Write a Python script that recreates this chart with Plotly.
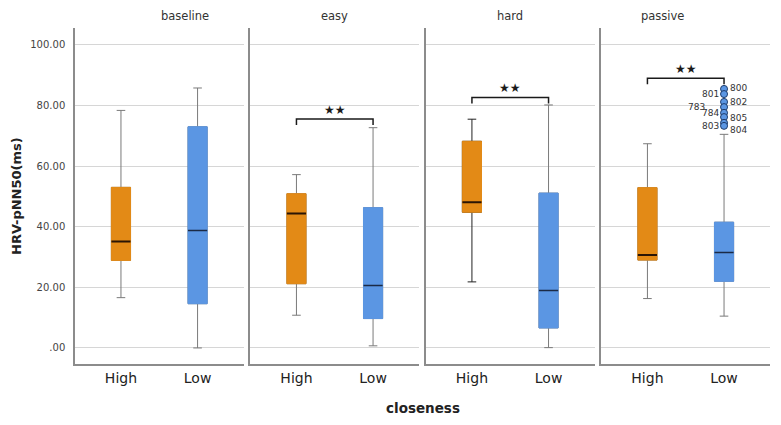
import plotly.graph_objects as go

# ---------------- data ----------------
panels = ["baseline", "easy", "hard", "passive"]
groups = ["High", "Low"]
# per panel: [High, Low]
lower_whisker = [[16.6, 0.0], [10.8, 0.7], [21.8, 0.1], [16.3, 10.5]]
q1_vals = [[28.9, 14.6], [21.2, 9.7], [44.8, 6.6], [29.0, 22.0]]
median_vals = [[35.1, 38.8], [44.4, 20.6], [48.1, 19.0], [30.7, 31.5]]
q3_vals = [[53.0, 73.0], [50.9, 46.3], [68.2, 51.1], [52.9, 41.5]]
upper_whisker = [[78.4, 85.8], [57.2, 72.7], [75.5, 80.2], [67.4, 70.5]]

sig_panels = ["easy", "hard", "passive"]
sig_tops = [75.6, 82.7, 89.0]
sig_label = "★★"

outlier_panel = "passive"
outlier_group = "Low"
outlier_ids = ["800", "801", "802", "783", "784", "805", "803", "804"]
outlier_vals = [85.5, 83.8, 81.2, 79.5, 77.6, 76.2, 74.3, 73.3]
outlier_label_shift = [(14, 1), (-14, 0), (14, 0), (-28, 0), (-14, 0), (14, -1), (-14, -3), (14, -4)]

y_ticks = [0, 20, 40, 60, 80, 100]
y_ticktext = [".00", "20.00", "40.00", "60.00", "80.00", "100.00"]

# ---------------- style ----------------
colors = ["#E38A16", "#5B96E3"]
median_colors = ["#2a1505", "#1b2a45"]
median_widths = [2, 1.5]
whisker_colors = [["#7a7a7a", "#7a7a7a"], ["#7a7a7a", "#7a7a7a"], ["#222222", "#7a7a7a"], ["#7a7a7a", "#7a7a7a"]]
box_w = 0.25
font = "DejaVu Sans"

W, H = 781, 425
ml, mr, mt, mb = 75, 11, 28, 61
pw = 0.2425
gap = (1 - 4 * pw) / 3

fig = go.Figure()

for p, name in enumerate(panels):
    xa = "x" if p == 0 else f"x{p+1}"
    ya = "y" if p == 0 else f"y{p+1}"
    for g in range(2):
        # whiskers (and hidden box outline)
        fig.add_trace(go.Box(
            x=[g], q1=[q1_vals[p][g]], median=[median_vals[p][g]], q3=[q3_vals[p][g]],
            lowerfence=[lower_whisker[p][g]], upperfence=[upper_whisker[p][g]],
            width=box_w, whiskerwidth=0.45, boxpoints=False,
            line=dict(color=whisker_colors[p][g], width=1),
            fillcolor=colors[g], xaxis=xa, yaxis=ya, showlegend=False, hoverinfo="skip"))
        # filled box body
        fig.add_trace(go.Box(
            x=[g], q1=[q1_vals[p][g]], median=[median_vals[p][g]], q3=[q3_vals[p][g]],
            lowerfence=[q1_vals[p][g]], upperfence=[q3_vals[p][g]],
            width=box_w, whiskerwidth=0, boxpoints=False,
            line=dict(color=colors[g], width=1),
            fillcolor=colors[g], xaxis=xa, yaxis=ya, showlegend=False, hoverinfo="skip"))
        # median line
        fig.add_trace(go.Scatter(
            x=[g - box_w / 2, g + box_w / 2], y=[median_vals[p][g]] * 2, mode="lines",
            line=dict(color=median_colors[g], width=median_widths[g]), xaxis=xa, yaxis=ya,
            showlegend=False, hoverinfo="skip"))

    if name in sig_panels:
        top = sig_tops[sig_panels.index(name)]
        drop = 2.0
        fig.add_trace(go.Scatter(
            x=[0, 0, 1, 1], y=[top - drop, top, top, top - drop], mode="lines",
            line=dict(color="#1a1a1a", width=1.5), xaxis=xa, yaxis=ya,
            showlegend=False, hoverinfo="skip"))
        fig.add_annotation(x=0.5, y=top, xref=xa, yref=ya, text=sig_label,
                           showarrow=False, yanchor="bottom", yshift=0,
                           font=dict(family=font, size=12, color="#1a1a1a"))

    if name == outlier_panel:
        gx = groups.index(outlier_group)
        fig.add_trace(go.Scatter(
            x=[gx] * len(outlier_vals), y=outlier_vals, mode="markers",
            marker=dict(color=colors[1], size=7, line=dict(color="#1d3b6b", width=1)),
            xaxis=xa, yaxis=ya, showlegend=False, hoverinfo="skip"))
        for lab, v, (dx, dy) in zip(outlier_ids, outlier_vals, outlier_label_shift):
            fig.add_annotation(x=gx, y=v, xref=xa, yref=ya, text=lab, showarrow=False,
                               xshift=dx, yshift=dy,
                               font=dict(family=font, size=9, color="#333333"))

layout = dict(
    width=W, height=H, margin=dict(l=ml, r=mr, t=mt, b=mb),
    paper_bgcolor="white", plot_bgcolor="white", boxmode="overlay",
    showlegend=False,
)
for p, name in enumerate(panels):
    x0 = p * (pw + gap)
    xk = "xaxis" if p == 0 else f"xaxis{p+1}"
    yk = "yaxis" if p == 0 else f"yaxis{p+1}"
    layout[xk] = dict(
        domain=[x0, x0 + pw], range=[-0.6, 1.6], tickvals=[0, 1], ticktext=groups,
        showgrid=False, zeroline=False, showline=True, linecolor="#8c8c8c", linewidth=1.5,
        ticks="", tickfont=dict(family=font, size=14, color="#222222"),
        anchor="y" if p == 0 else f"y{p+1}", fixedrange=True)
    layout[yk] = dict(
        range=[-5.3, 105.6], tickvals=y_ticks, ticktext=y_ticktext,
        showticklabels=(p == 0), showgrid=True, gridcolor="#d6d6d6", gridwidth=1,
        zeroline=False, showline=True, linecolor="#8c8c8c", linewidth=1.5,
        ticks="", ticklabelstandoff=6, tickfont=dict(family=font, size=10, color="#444444"),
        anchor="x" if p == 0 else f"x{p+1}")
    if p > 0:
        layout[yk]["matches"] = "y"
fig.update_layout(**layout)

for p, name in enumerate(panels):
    x0 = p * (pw + gap)
    fig.add_annotation(x=x0 + pw / 2, y=1, xref="paper", yref="paper", text=name,
                       showarrow=False, yanchor="bottom", yshift=3,
                       font=dict(family=font, size=11.5, color="#333333"))

fig.add_annotation(x=0, y=0.5, xref="paper", yref="paper", text="<b>HRV-pNN50(ms)</b>",
                   textangle=-90, showarrow=False, xanchor="center", xshift=-59,
                   font=dict(family=font, size=13, color="#222222"))
fig.add_annotation(x=0.5, y=0, xref="paper", yref="paper", text="<b>closeness</b>",
                   showarrow=False, yanchor="top", yshift=-34,
                   font=dict(family=font, size=13.5, color="#222222"))

fig.write_html("out.html")
